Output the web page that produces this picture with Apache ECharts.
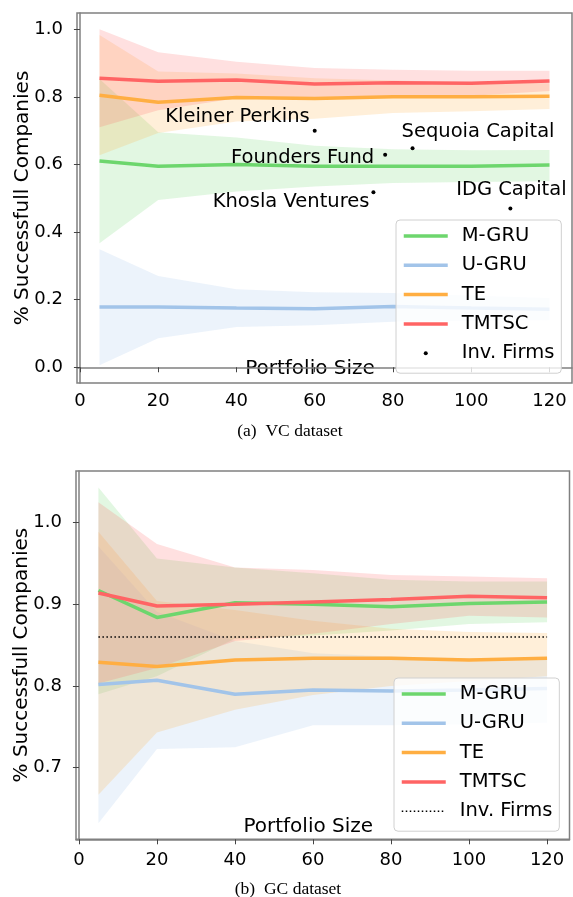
<!DOCTYPE html>
<html><head><meta charset="utf-8">
<script src="https://cdn.jsdelivr.net/npm/echarts@6/dist/echarts.min.js"></script>
<style>html,body{margin:0;padding:0;background:#fff}#c{width:573px;height:897px}</style>
</head><body><div id="c"></div>
<script>
// ---------- data ----------
const portfolioSizes = [5, 20, 40, 60, 80, 100, 120];
const xTicks = [0, 20, 40, 60, 80, 100, 120];
const vcYTicks = [0, 0.2, 0.4, 0.6, 0.8, 1.0];
const gcYTicks = [0.7, 0.8, 0.9, 1.0];
const seriesNames = ['M-GRU', 'U-GRU', 'TE', 'TMTSC'];

// (a) VC dataset
const vcMGRU      = [0.610, 0.595, 0.600, 0.595, 0.595, 0.595, 0.598];
const vcMGRUUpper = [0.853, 0.695, 0.680, 0.655, 0.645, 0.642, 0.643];
const vcMGRULower = [0.367, 0.495, 0.520, 0.535, 0.545, 0.548, 0.550];
const vcUGRU      = [0.178, 0.178, 0.175, 0.173, 0.180, 0.175, 0.172];
const vcUGRUUpper = [0.349, 0.270, 0.231, 0.222, 0.220, 0.212, 0.205];
const vcUGRULower = [0.006, 0.086, 0.119, 0.124, 0.135, 0.138, 0.139];
const vcTE        = [0.805, 0.784, 0.798, 0.795, 0.800, 0.800, 0.802];
const vcTEUpper   = [0.983, 0.875, 0.869, 0.855, 0.848, 0.843, 0.840];
const vcTELower   = [0.627, 0.693, 0.727, 0.735, 0.752, 0.757, 0.764];
const vcTMTSC      = [0.855, 0.846, 0.850, 0.838, 0.842, 0.840, 0.847];
const vcTMTSCUpper = [1.000, 0.932, 0.904, 0.885, 0.880, 0.877, 0.877];
const vcTMTSCLower = [0.710, 0.760, 0.796, 0.791, 0.804, 0.803, 0.817];
const firmNames = ['Kleiner Perkins', 'Founders Fund', 'Sequoia Capital', 'Khosla Ventures', 'IDG Capital'];
const firmPortfolio = [60, 78, 85, 75, 110];
const firmSuccess = [0.700, 0.629, 0.648, 0.518, 0.470];

// (b) GC dataset
const gcMGRU      = [0.917, 0.884, 0.902, 0.900, 0.897, 0.901, 0.903];
const gcMGRUUpper = [1.043, 0.956, 0.945, 0.938, 0.930, 0.928, 0.928];
const gcMGRULower = [0.790, 0.812, 0.858, 0.862, 0.868, 0.876, 0.878];
const gcUGRU      = [0.802, 0.807, 0.790, 0.795, 0.794, 0.795, 0.797];
const gcUGRUUpper = [0.971, 0.891, 0.855, 0.840, 0.836, 0.834, 0.832];
const gcUGRULower = [0.632, 0.723, 0.725, 0.752, 0.752, 0.753, 0.755];
const gcTE        = [0.829, 0.824, 0.832, 0.834, 0.834, 0.832, 0.834];
const gcTEUpper   = [0.989, 0.904, 0.893, 0.880, 0.870, 0.866, 0.865];
const gcTELower   = [0.667, 0.743, 0.771, 0.789, 0.800, 0.806, 0.812];
const gcTMTSC      = [0.914, 0.898, 0.900, 0.903, 0.906, 0.910, 0.908];
const gcTMTSCUpper = [1.025, 0.974, 0.945, 0.942, 0.936, 0.934, 0.932];
const gcTMTSCLower = [0.803, 0.822, 0.855, 0.864, 0.876, 0.886, 0.884];
const gcInvFirmsX = [5, 120];
const gcInvFirmsLevel = [0.86, 0.86];

// ---------- styling ----------
const FONT = 'DejaVu Sans';
const colors = {'M-GRU': '#6dd66d', 'U-GRU': '#a2c4e9', 'TE': '#ffae42', 'TMTSC': '#ff6464'};
const firmLabelLayout = {
  'Kleiner Perkins': {align: 'right', offset: [-5, -14]},
  'Founders Fund':   {align: 'right', offset: [-11, 3]},
  'Sequoia Capital': {align: 'left',  offset: [-11, -16]},
  'Khosla Ventures': {align: 'right', offset: [-4, 10]},
  'IDG Capital':     {align: 'center', offset: [1, -18]}
};

function band(gi, lo, hi, color) {
  return {
    type: 'custom', xAxisIndex: gi, yAxisIndex: gi, silent: true, z: 1,
    data: portfolioSizes.map((x, i) => [x, lo[i], hi[i]]),
    encode: {x: 0, y: [1, 2]},
    renderItem: function (params, api) {
      if (params.dataIndex !== 0) return null;
      const pts = [];
      for (let i = 0; i < portfolioSizes.length; i++) pts.push(api.coord([portfolioSizes[i], hi[i]]));
      for (let i = portfolioSizes.length - 1; i >= 0; i--) pts.push(api.coord([portfolioSizes[i], lo[i]]));
      return {type: 'polygon', shape: {points: pts}, style: {fill: color, opacity: 0.2}};
    }
  };
}
function line(gi, name, vals) {
  return {
    type: 'line', name: name, xAxisIndex: gi, yAxisIndex: gi, z: 3,
    data: portfolioSizes.map((x, i) => [x, vals[i]]),
    symbol: 'none', lineStyle: {width: 3.5, color: colors[name]}, itemStyle: {color: colors[name]},
    silent: true
  };
}
function xAxis(gi, margin, nameGap) {
  return {
    type: 'value', gridIndex: gi, min: -0.75, max: 125.75,
    splitLine: {show: false},
    axisLine: {show: true, lineStyle: {color: '#808080', width: 1.5}},
    axisTick: {show: true, length: 5, lineStyle: {color: '#444'}, customValues: xTicks},
    axisLabel: {customValues: xTicks, margin: margin, color: '#000', fontFamily: FONT, fontSize: 18},
    name: 'Portfolio Size', nameLocation: 'middle', nameGap: nameGap, nameMoveOverlap: false,
    nameTextStyle: {color: '#000', fontFamily: FONT, fontSize: 20, padding: [0, 29, 0, 0]}
  };
}
function yAxis(gi, min, max, ticks) {
  return {
    type: 'value', gridIndex: gi, min: min, max: max,
    splitLine: {show: false},
    axisLine: {show: true, lineStyle: {color: '#808080', width: 1.5}},
    axisTick: {show: true, length: 6, lineStyle: {color: '#444'}, customValues: ticks},
    axisLabel: {customValues: ticks, margin: 14, color: '#000', fontFamily: FONT, fontSize: 18,
      formatter: v => v.toFixed(1)},
    name: '% Successfull Companies', nameLocation: 'middle', nameGap: 44, nameMoveOverlap: false,
    nameTextStyle: {color: '#000', fontFamily: FONT, fontSize: 20}
  };
}
function legend(left, top, items) {
  return {
    orient: 'vertical', left: left, top: top, data: items,
    itemWidth: 44, itemHeight: 4, itemGap: 9.3,
    padding: [6, 7, 10, 6],
    backgroundColor: 'rgba(255,255,255,0.8)', borderColor: '#d0d0d0', borderWidth: 1, borderRadius: 4,
    formatter: n => n.trim(),
    itemStyle: {opacity: 0},
    lineStyle: {width: 3.5},
    textStyle: {color: '#000', fontFamily: FONT, fontSize: 19.5, lineHeight: 20, padding: [0, 0, 0, 9]},
    selectedMode: false
  };
}

const series = [
  band(0, vcMGRULower, vcMGRUUpper, colors['M-GRU']),
  band(0, vcUGRULower, vcUGRUUpper, colors['U-GRU']),
  band(0, vcTELower, vcTEUpper, colors['TE']),
  band(0, vcTMTSCLower, vcTMTSCUpper, colors['TMTSC']),
  line(0, 'M-GRU', vcMGRU), line(0, 'U-GRU', vcUGRU), line(0, 'TE', vcTE), line(0, 'TMTSC', vcTMTSC),
  {
    type: 'scatter', name: 'Inv. Firms', xAxisIndex: 0, yAxisIndex: 0, z: 4,
    symbol: 'circle', symbolSize: 4, itemStyle: {color: '#000', opacity: 1}, silent: true,
    data: firmNames.map((n, i) => ({
      name: n, value: [firmPortfolio[i], firmSuccess[i]],
      label: {show: true, position: 'inside', formatter: n, color: '#000', fontFamily: FONT, fontSize: 19.5,
        textBorderWidth: 0, align: firmLabelLayout[n].align, verticalAlign: 'middle', offset: firmLabelLayout[n].offset}
    }))
  },
  band(1, gcMGRULower, gcMGRUUpper, colors['M-GRU']),
  band(1, gcUGRULower, gcUGRUUpper, colors['U-GRU']),
  band(1, gcTELower, gcTEUpper, colors['TE']),
  band(1, gcTMTSCLower, gcTMTSCUpper, colors['TMTSC']),
  line(1, 'M-GRU', gcMGRU), line(1, 'U-GRU', gcUGRU), line(1, 'TE', gcTE), line(1, 'TMTSC', gcTMTSC),
  {
    type: 'line', name: 'Inv. Firms ', xAxisIndex: 1, yAxisIndex: 1, z: 3, symbol: 'none', silent: true,
    data: gcInvFirmsX.map((x, i) => [x, gcInvFirmsLevel[i]]),
    lineStyle: {color: '#000', width: 1.5, type: [1.5, 2.5]}, itemStyle: {color: '#000'}
  }
];

const chart = echarts.init(document.getElementById('c'), null, {renderer: 'canvas'});
chart.setOption({
  animation: false,
  backgroundColor: '#fff',
  grid: [
    {left: 77, top: 13, width: 495, height: 370, show: true, borderColor: '#808080', borderWidth: 1.5, containLabel: false},
    {left: 76, top: 471, width: 493.5, height: 368.3, show: true, borderColor: '#808080', borderWidth: 1.5, containLabel: false}
  ],
  xAxis: [xAxis(0, 9, -24), xAxis(1, 12, -23)],
  yAxis: [yAxis(0, -0.0465, 1.048, vcYTicks), yAxis(1, 0.6123, 1.0633, gcYTicks)],
  legend: [
    legend(396, 220, ['M-GRU', 'U-GRU', 'TE', 'TMTSC', {name: 'Inv. Firms', itemStyle: {opacity: 1}}]),
    legend(394, 678, ['M-GRU', 'U-GRU', 'TE', 'TMTSC', {name: 'Inv. Firms ', lineStyle: {width: 1.5}}])
  ],
  graphic: [
    {type: 'text', x: 290, y: 431, style: {text: '(a)  VC dataset', font: '17.5px "Liberation Serif", serif', fill: '#000', textAlign: 'center', textVerticalAlign: 'middle'}},
    {type: 'text', x: 288, y: 889, style: {text: '(b)  GC dataset', font: '17.5px "Liberation Serif", serif', fill: '#000', textAlign: 'center', textVerticalAlign: 'middle'}}
  ],
  series: series
});
</script>
</body></html>
